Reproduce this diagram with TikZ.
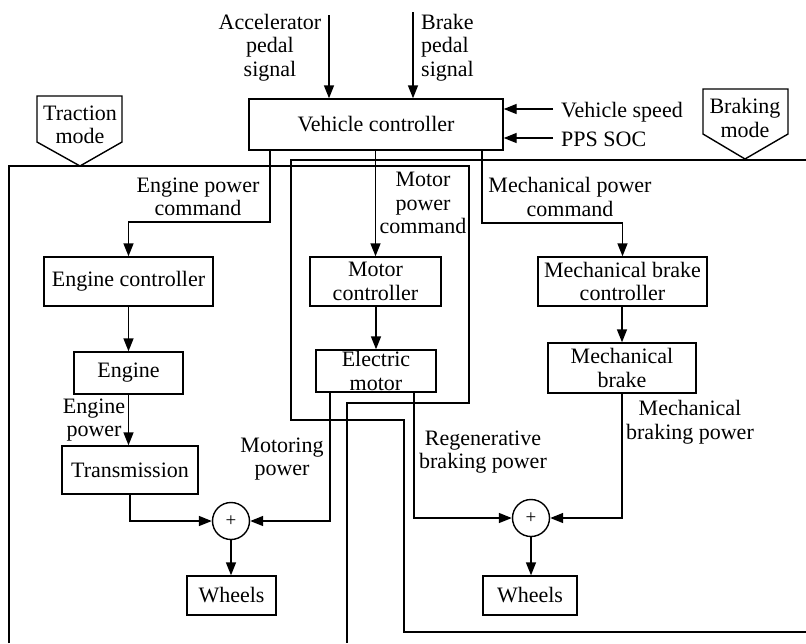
\documentclass[tikz,border=0pt]{standalone}
\usepackage{fontspec}
\setmainfont{Liberation Serif}
\usetikzlibrary{arrows.meta}
\newcommand\fsz{\fontsize{22}{23.5}\selectfont}
\tikzset{
  box/.style={draw, line width=1.4pt, inner sep=0pt, align=center, font=\fsz},
  lbl/.style={inner sep=0pt, align=center, font=\fsz},
  arr/.style={line width=1.4pt, -{Triangle[length=13pt,width=10pt]}},
  ln/.style={line width=1.4pt},
  sum/.style={draw, circle, line width=1.4pt, minimum size=37pt, inner sep=0pt, font=\fontsize{19}{19}\selectfont},
}
\begin{document}
\begin{tikzpicture}[x=1pt,y=-1pt]
\useasboundingbox (0,0) rectangle (806,643);
% mode regions
\draw[ln] (9,643) -- (9,166) -- (469,166) -- (469,403) -- (347,403) -- (347,643);
\draw[ln] (806,160) -- (291,160) -- (291,420) -- (404,420) -- (404,632) -- (806,632);
\draw[ln] (37,96) -- (122,96) -- (122,142) -- (80,166) -- (37,142) -- cycle;
\node[lbl] (tm) at (80,125) {Traction\\mode};
\draw[ln] (703,89) -- (788,89) -- (788,134) -- (745,159) -- (703,134) -- cycle;
\node[lbl] (bm) at (745,118) {Braking\\mode};
% boxes
\node[box,minimum width=254pt,minimum height=51pt] (vc) at (376,124.5) {Vehicle controller};
\node[box,minimum width=169pt,minimum height=49pt] (ec) at (128.5,281.5) {Engine controller};
\node[box,minimum width=109pt,minimum height=42pt] (eng) at (128.5,373) {Engine};
\node[box,minimum width=136pt,minimum height=48pt] (tr) at (130,470) {Transmission};
\node[box,minimum width=131pt,minimum height=49pt] (mc) at (375.5,281.5) {Motor\\controller};
\node[box,minimum width=120pt,minimum height=42pt] (em) at (376,371) {Electric\\motor};
\node[box,minimum width=169pt,minimum height=49pt] (mbc) at (622.5,281.5) {Mechanical brake\\controller};
\node[box,minimum width=148pt,minimum height=50pt] (mb) at (622,368) {Mechanical\\brake};
\node[box,minimum width=89pt,minimum height=39pt] (w1) at (231.5,595.5) {Wheels};
\node[box,minimum width=94pt,minimum height=39pt] (w2) at (530,595.5) {Wheels};
\node[sum] (s1) at (231,521) {+};
\node[sum] (s2) at (531,518) {+};
% labels
\node[lbl] (acc) at (270,47.6) {Accelerator\\pedal\\signal};
\node[lbl,align=left,anchor=west] (brk) at (421,47.6) {Brake\\pedal\\signal};
\node[lbl,anchor=base west] (vs) at (561,117) {Vehicle speed};
\node[lbl,anchor=base west] (soc) at (561,146) {PPS SOC};
\node[lbl] (epc) at (198,197) {Engine power\\command};
\node[lbl] (mpc) at (423,203) {Motor\\power\\command};
\node[lbl] (mecc) at (570,197) {Mechanical power\\command};
\node[lbl] (ep) at (94,420) {Engine\\power};
\node[lbl] (mp) at (282,459) {Motoring\\power};
\node[lbl] (rbp) at (483,452) {Regenerative\\braking power};
\node[lbl] (mbp) at (690,422) {Mechanical\\braking power};
% inputs
\coordinate (accin) at (329,15);
\coordinate (brkin) at (413,12);
\coordinate (vsin) at (553,109);
\coordinate (socin) at (553,138);
\draw[arr] (accin) -- (accin |- vc.north);
\draw[arr] (brkin) -- (brkin |- vc.north);
\draw[arr] (vsin) -- (vsin -| vc.east);
\draw[arr] (socin) -- (socin -| vc.east);
% commands
\coordinate (ecx) at (270,222);
\coordinate (mcx) at (482,223);
\draw[arr] (ecx |- vc.south) -- (ecx) -| (ec.north);
\draw[arr] (vc.south -| mc.north) -- (mc.north);
\draw[arr] (mcx |- vc.south) -- (mcx) -| (mbc.north);
% chains
\draw[arr] (ec.south) -- (eng.north);
\draw[arr] (eng.south) -- (eng.south |- tr.north);
\draw[arr] (mc.south -| em.north) -- (em.north);
\draw[arr] (mbc.south -| mb.north) -- (mb.north);
\draw[arr] (tr.south) |- (s1.west);
\coordinate (mot) at (330,0);
\coordinate (reg) at (414,0);
\draw[arr] (mot |- em.south) |- (s1.east);
\draw[arr] (reg |- em.south) |- (s2.west);
\draw[arr] (mb.south) |- (s2.east);
\draw[arr] (s1.south) -- (s1.south |- w1.north);
\draw[arr] (s2.south) -- (s2.south |- w2.north);
\end{tikzpicture}
\end{document}
